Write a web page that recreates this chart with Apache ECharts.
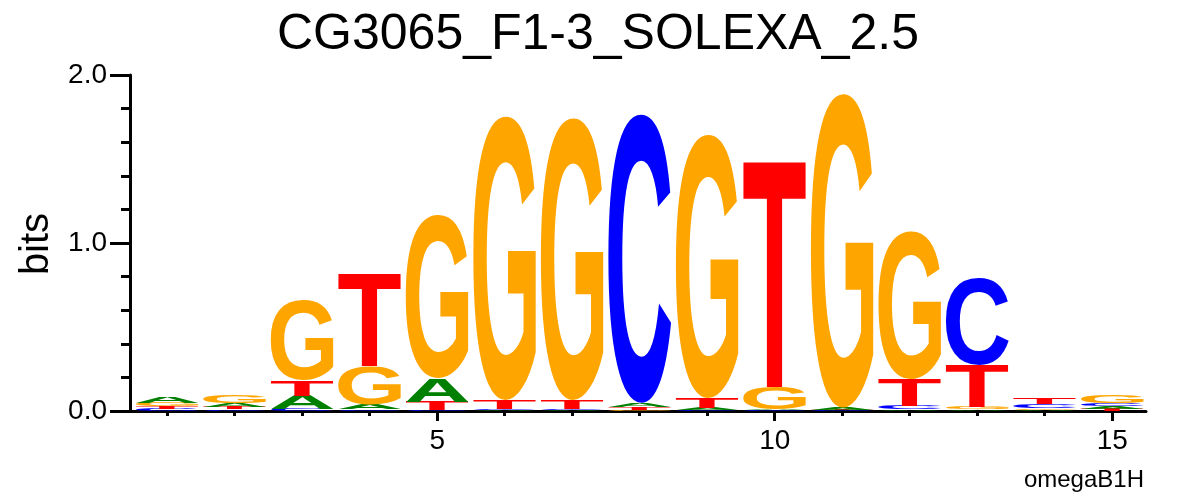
<!DOCTYPE html>
<html><head><meta charset="utf-8">
<script src="https://cdn.jsdelivr.net/npm/echarts@6/dist/echarts.min.js"></script>
<style>html,body{margin:0;padding:0;background:#fff}#c{width:1196px;height:496px}</style>
</head><body><div id="c"></div>
<script>
// ---- data (bits per letter at each position) ----
const positions = [1, 2, 3, 4, 5, 6, 7, 8, 9, 10, 11, 12, 13, 14, 15];
const bitsA = [0.035, 0.025, 0.08, 0.03, 0.14, 0.005, 0.005, 0.025, 0.012, 0.01, 0.012, 0.01, 0.01, 0.008, 0.015];
const bitsC = [0.013, 0.011, 0.012, 0.01, 0.005, 0.005, 0.005, 1.72, 0.005, 0.003, 0.003, 0.02, 0.52, 0.02, 0.018];
const bitsG = [0.02, 0.045, 0.48, 0.23, 0.97, 1.69, 1.68, 0.008, 1.57, 0.13, 1.87, 0.88, 0.015, 0.011, 0.045];
const bitsT = [0.016, 0.013, 0.09, 0.55, 0.05, 0.055, 0.055, 0.015, 0.06, 1.35, 0.005, 0.16, 0.25, 0.035, 0.012];
const letters = ['A', 'C', 'G', 'T'];
const letterColors = ['#008000', '#0000ff', '#ffa500', '#ff0000'];
const xMajorTicks = [5, 10, 15];
const yLabelTicks = [0, 1, 2];
const titleText = 'CG3065_F1-3_SOLEXA_2.5';
const yName = 'bits';
const footText = 'omegaB1H';

// ---- build stacked letter table ----
const letterBits = [bitsA, bitsC, bitsG, bitsT];
const stackData = [];
positions.forEach((p, i) => {
  const col = letters.map((L, li) => ({li, v: letterBits[li][i]}));
  col.sort((a, b) => a.v - b.v);
  let base = 0;
  col.forEach(c => { stackData.push([p, base, base + c.v, c.li]); base += c.v; });
});

// ---- glyph metrics so each letter fills its box ----
const FS = 200, FAM = 'Liberation Sans';
const mctx = document.createElement('canvas').getContext('2d');
mctx.font = 'bold ' + FS + 'px "' + FAM + '"';
mctx.textBaseline = 'middle';
mctx.textAlign = 'left';
const metrics = letters.map(L => {
  const m = mctx.measureText(L);
  return {left: m.actualBoundingBoxLeft, w: m.actualBoundingBoxLeft + m.actualBoundingBoxRight,
          asc: m.actualBoundingBoxAscent, h: m.actualBoundingBoxAscent + m.actualBoundingBoxDescent};
});
const halfW = 0.465;

function renderItem(params, api) {
  const pos = api.value(0), y0 = api.value(1), y1 = api.value(2), li = api.value(3);
  const p0 = api.coord([pos - halfW, y1]);
  const p1 = api.coord([pos + halfW, y0]);
  const W = p1[0] - p0[0], H = p1[1] - p0[1];
  if (H <= 0.2) return null;
  const m = metrics[li];
  const sx = W / m.w, sy = H / m.h;
  return {
    type: 'text', x: p0[0] + m.left * sx, y: p0[1] + m.asc * sy, scaleX: sx, scaleY: sy,
    style: {text: letters[li], fontSize: FS, fontWeight: 'bold', fontFamily: FAM,
            fill: letterColors[li], align: 'left', verticalAlign: 'middle', lineHeight: FS}
  };
}

const chart = echarts.init(document.getElementById('c'), null, {renderer: 'canvas'});
const axisFont = {fontFamily: FAM, fontSize: 28, color: '#000'};
chart.setOption({
  animation: false,
  backgroundColor: '#fff',
  grid: {left: 130, right: 50, top: 75, bottom: 85},
  graphic: [
    {type: 'text', x: 598, y: 35, style: {text: titleText, fontFamily: FAM, fontSize: 50, fill: '#000', align: 'center', verticalAlign: 'middle'}},
    {type: 'text', x: 37, y: 244, rotation: Math.PI / 2, style: {text: yName, fontFamily: FAM, fontSize: 40, fill: '#000', align: 'center', verticalAlign: 'middle'}},
    {type: 'text', x: 1144, y: 480, style: {text: footText, fontFamily: FAM, fontSize: 24, fill: '#000', align: 'right', verticalAlign: 'middle'}}
  ],
  xAxis: [
    {type: 'value', min: 0.45, max: 15.5, position: 'bottom',
     axisLine: {show: true, onZero: false, lineStyle: {color: '#000', width: 3}},
     axisTick: {show: true, customValues: xMajorTicks, length: 10, lineStyle: {color: '#000', width: 3}},
     axisLabel: Object.assign({customValues: xMajorTicks, margin: 16}, axisFont),
     splitLine: {show: false}},
    {type: 'value', min: 0.45, max: 15.5, position: 'bottom',
     axisLine: {show: false},
     axisTick: {show: true, customValues: positions, length: 5, lineStyle: {color: '#000', width: 3}},
     axisLabel: {show: false}, splitLine: {show: false}}
  ],
  yAxis: [
    {type: 'value', min: 0, max: 2, interval: 0.2, position: 'left',
     axisLine: {show: true, lineStyle: {color: '#000', width: 3}},
     axisTick: {show: true, length: 9, lineStyle: {color: '#000', width: 3}},
     axisLabel: Object.assign({customValues: yLabelTicks, margin: 23, formatter: v => v.toFixed(1)}, axisFont),
     splitLine: {show: false}},
    {type: 'value', min: 0, max: 2, position: 'left',
     axisLine: {show: false},
     axisTick: {show: true, customValues: yLabelTicks, length: 20, lineStyle: {color: '#000', width: 3}},
     axisLabel: {show: false}, splitLine: {show: false}}
  ],
  series: [{
    type: 'custom', xAxisIndex: 0, yAxisIndex: 0, renderItem: renderItem,
    encode: {x: 0, y: 2}, data: stackData, clip: false
  }]
});
</script></body></html>
